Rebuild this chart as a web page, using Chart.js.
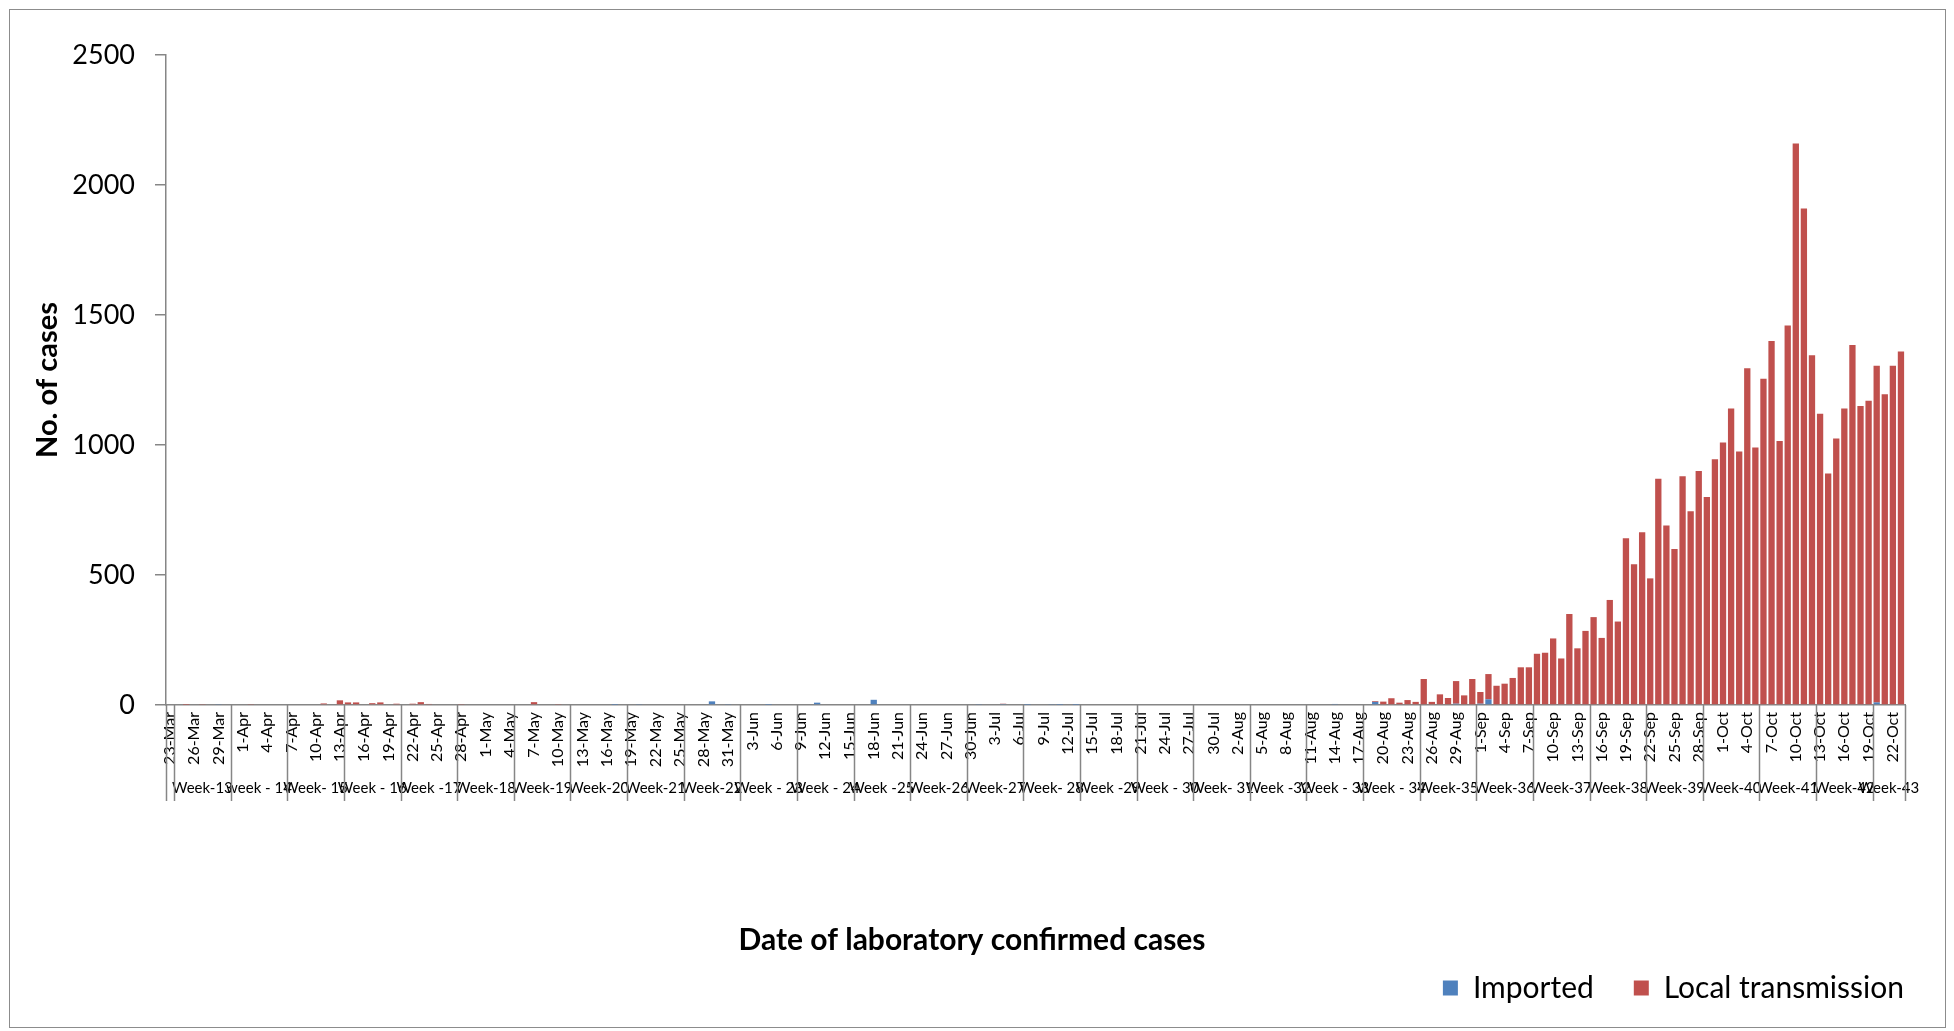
<!DOCTYPE html>
<html>
<head>
<meta charset="utf-8">
<title>Laboratory confirmed cases</title>
<script src="https://cdn.jsdelivr.net/npm/chart.js@4.4.0/dist/chart.umd.min.js"></script>
<style>
  html, body { margin: 0; padding: 0; background: #fff; }
  #wrap { position: relative; width: 1954px; height: 1031px; }
  #frame { position: absolute; left: 9px; top: 9px; width: 1935px; height: 1017px;
           border: 1px solid #8c8c8c; pointer-events: none; }
</style>
</head>
<body>
<div id="wrap">
  <canvas id="casesChart"></canvas>
  <div id="frame"></div>
</div>
<script>
// Daily laboratory confirmed cases, 23-Mar to 23-Oct

const monthSpans = [
    ['Mar', 23, 31], ['Apr', 1, 30], ['May', 1, 31], ['Jun', 1, 30],
    ['Jul', 1, 31], ['Aug', 1, 31], ['Sep', 1, 30], ['Oct', 1, 23]
];

const importedCases = [
    // Mar
    0, 0, 0, 0, 0, 0, 2, 0, 0,
    // Apr
    0, 0, 0, 0, 0, 0, 0, 0, 0, 0, 0, 0, 0, 0, 0, 0, 0, 0, 0, 0, 0, 0, 0, 0, 0, 0, 0, 0, 0, 0,
    // May
    0, 0, 0, 0, 0, 0, 0, 0, 0, 0, 0, 0, 0, 0, 0, 0, 1, 0, 0, 2, 0, 0, 0, 0, 0, 0, 0, 0, 14, 0, 2,
    // Jun
    0, 0, 0, 0, 1, 0, 0, 0, 0, 0, 9, 0, 0, 0, 0, 0, 0, 20, 0, 0, 0, 0, 0, 0, 0, 0, 0, 0, 0, 0,
    // Jul
    2, 0, 0, 4, 0, 0, 1, 0, 0, 2, 1, 0, 1, 0, 0, 0, 0, 0, 0, 0, 0, 0, 0, 0, 0, 0, 0, 0, 0, 0, 0,
    // Aug
    0, 0, 0, 0, 0, 0, 0, 0, 0, 0, 0, 0, 0, 4, 3, 0, 0, 0, 12, 0, 0, 0, 0, 0, 0, 0, 0, 0, 5, 0, 0,
    // Sep
    5, 22, 0, 0, 3, 0, 0, 0, 0, 0, 0, 0, 0, 0, 0, 0, 0, 0, 0, 0, 0, 0, 0, 0, 0, 0, 0, 0, 0, 0,
    // Oct
    0, 0, 0, 0, 0, 0, 0, 0, 3, 0, 0, 0, 0, 0, 0, 0, 0, 0, 0, 10, 0, 0, 0
];

const localCases = [
    // Mar
    0, 0, 1, 0, 2, 0, 0, 0, 0,
    // Apr
    0, 2, 0, 0, 0, 0, 0, 0, 3, 0, 6, 0, 18, 10, 10, 0, 7, 10, 0, 5, 0, 5, 11, 4, 0, 0, 0, 2, 0, 0,
    // May
    0, 0, 3, 3, 0, 0, 11, 0, 0, 2, 0, 0, 0, 0, 0, 0, 0, 0, 0, 0, 0, 0, 0, 0, 0, 0, 0, 0, 0, 0, 0,
    // Jun
    0, 0, 0, 0, 0, 0, 0, 0, 0, 0, 0, 0, 0, 0, 0, 0, 0, 0, 0, 0, 0, 0, 0, 0, 0, 0, 0, 0, 0, 0,
    // Jul
    0, 0, 0, 1, 0, 0, 0, 0, 0, 0, 0, 0, 0, 0, 0, 0, 0, 0, 0, 0, 0, 0, 0, 0, 0, 0, 0, 0, 0, 0, 0,
    // Aug
    0, 0, 0, 0, 0, 0, 0, 0, 0, 0, 0, 0, 0, 0, 0, 0, 0, 0, 3, 13, 26, 9, 19, 12, 100, 12, 41, 27, 87, 37, 100,
    // Sep
    45, 97, 74, 82, 101, 145, 145, 197, 201, 256, 179, 350, 218, 285, 338, 258, 404, 321, 641, 541,
    664, 487, 870, 690, 600, 880, 745, 900, 800, 945,
    // Oct
    1010, 1140, 975, 1295, 990, 1255, 1400, 1015, 1457, 2160, 1910, 1345, 1120, 890, 1025, 1140,
    1385, 1150, 1170, 1295, 1195, 1305, 1360
];

// second level of the category axis: first group is the lone 23-Mar
const weekLabels = [
    '', 'Week-13', 'week - 14', 'Week- 15', 'Week - 16', 'Week -17', 'Week-18', 'Week-19',
    'Week-20', 'Week-21', 'Week-22', 'Week - 23', 'Week - 24', 'Week -25', 'Week-26', 'Week-27',
    'Week- 28', 'Week -29', 'Week - 30', 'Week- 31', 'Week -32', 'Week - 33', 'Week - 34',
    'Week-35', 'Week-36', 'Week-37', 'Week-38', 'Week-39', 'Week-40', 'Week-41', 'Week-42', 'Week-43'
];
const weekSizes = [1, 7, 7, 7, 7, 7, 7, 7, 7, 7, 7, 7, 7, 7, 7, 7, 7, 7, 7, 7, 7, 7, 7, 7, 7, 7, 7, 7, 7, 7, 7, 4];

const yTicks = [0, 500, 1000, 1500, 2000, 2500];

const FONT = 'Lato, "Open Sans", sans-serif';
const AXIS_GRAY = '#868686';

const dayLabels = [];
monthSpans.forEach(([mon, first, last]) => {
    for (let d = first; d <= last; d++) dayLabels.push(d + '-' + mon);
});

const weekCenters = [];
const weekBounds = [-0.5];
let start = 0;
weekSizes.forEach(size => {
    weekCenters.push(start + (size - 1) / 2);
    start += size;
    weekBounds.push(start - 0.5);
});

const weekLinesPlugin = {
    id: 'weekLines',
    afterDraw(chart) {
        const x2 = chart.scales.x2;
        const ctx = chart.ctx;
        ctx.save();
        ctx.strokeStyle = AXIS_GRAY;
        ctx.lineWidth = 1.5;
        ctx.beginPath();
        weekBounds.forEach(b => {
            const px = Math.round(x2.getPixelForValue(b)) + 0.5;
            ctx.moveTo(px, chart.chartArea.bottom);
            ctx.lineTo(px, x2.top + 28);
        });
        ctx.stroke();
        ctx.restore();
    }
};

Chart.defaults.font.family = FONT;
Chart.defaults.color = '#000';

function createCasesChart() {
    const ctx = document.getElementById('casesChart').getContext('2d');

    return new Chart(ctx, {
        type: 'bar',
        data: {
            labels: dayLabels,
            datasets: [{
                label: 'Imported',
                data: importedCases,
                backgroundColor: '#4F81BD'
            }, {
                label: 'Local transmission',
                data: localCases,
                backgroundColor: '#C0504D'
            }]
        },
        options: {
            responsive: true,
            maintainAspectRatio: false,
            animation: false,
            datasets: {
                bar: { categoryPercentage: 1, barPercentage: 0.78 }
            },
            layout: {
                padding: { top: 55, left: 0, right: 10, bottom: 18 }
            },
            scales: {
                x: {
                    stacked: true,
                    weight: 1,
                    grid: { display: false, drawTicks: false },
                    border: { display: true, color: AXIS_GRAY, width: 1.5 },
                    ticks: {
                        autoSkip: false,
                        minRotation: 90,
                        maxRotation: 90,
                        padding: 7,
                        font: { size: 16 },
                        callback: (value, index) => index % 3 === 0 ? dayLabels[index] : ''
                    },
                    afterFit: scale => { scale.height = 68; }
                },
                x2: {
                    type: 'linear',
                    position: 'bottom',
                    weight: 2,
                    offset: false,
                    min: -0.5,
                    max: dayLabels.length - 0.5,
                    grid: { display: false, drawTicks: false },
                    border: { display: false },
                    afterBuildTicks: scale => {
                        scale.ticks = weekCenters.map(v => ({ value: v }));
                    },
                    ticks: {
                        autoSkip: false,
                        minRotation: 0,
                        maxRotation: 0,
                        padding: 6,
                        font: { size: 15 },
                        callback: (value, index) => weekLabels[index]
                    },
                    afterFit: scale => { scale.height = 30; }
                },
                y: {
                    stacked: true,
                    min: 0,
                    max: 2500,
                    afterBuildTicks: scale => {
                        scale.ticks = yTicks.map(v => ({ value: v }));
                    },
                    ticks: {
                        padding: 20,
                        font: { size: 27 },
                        callback: value => String(value)
                    },
                    grid: {
                        drawOnChartArea: false,
                        drawTicks: true,
                        tickLength: 11,
                        color: AXIS_GRAY,
                        lineWidth: 1.5
                    },
                    border: { color: AXIS_GRAY, width: 1.5 },
                    title: {
                        display: true,
                        text: 'No. of cases',
                        font: { size: 29, weight: 'bold' },
                        padding: { top: 30, bottom: 0 }
                    },
                    afterFit: scale => { scale.width = 166; }
                },
                // empty right-hand axis, only keeps the plot clear of the legend edge
                yRight: {
                    position: 'right',
                    grid: { display: false },
                    border: { display: false },
                    ticks: { display: false },
                    afterFit: scale => { scale.width = 39; }
                }
            },
            plugins: {
                // axis title is centred on the whole chart, as in the original
                title: {
                    display: true,
                    position: 'bottom',
                    weight: 500,
                    text: 'Date of laboratory confirmed cases',
                    font: { size: 30, weight: 'bold' },
                    padding: { top: 119, bottom: -25 }
                },
                legend: {
                    position: 'bottom',
                    align: 'end',
                    labels: {
                        boxWidth: 15,
                        boxHeight: 15,
                        padding: 40,
                        font: { size: 30 }
                    }
                },
                tooltip: { enabled: false }
            }
        },
        plugins: [weekLinesPlugin]
    });
}

createCasesChart();
</script>
</body>
</html>
